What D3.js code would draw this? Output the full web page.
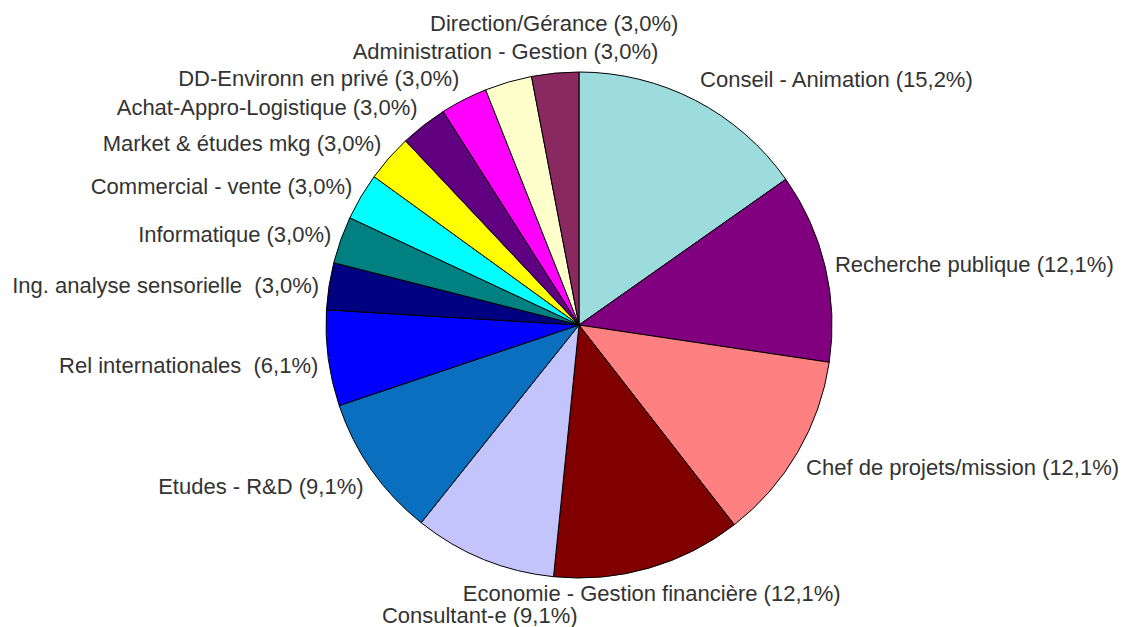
<!DOCTYPE html>
<html>
<head>
<meta charset="utf-8">
<script src="https://cdn.jsdelivr.net/npm/d3@7"></script>
<style>
  body { margin: 0; background: #fff; }
  svg { display: block; }
</style>
</head>
<body>
<script>

// categories, clockwise from 12 o'clock
var categories = ["Conseil - Animation", "Recherche publique", "Chef de projets/mission",
  "Economie - Gestion financière", "Consultant-e", "Etudes - R&D", "Rel internationales ",
  "Ing. analyse sensorielle ", "Informatique", "Commercial - vente", "Market & études mkg",
  "Achat-Appro-Logistique", "DD-Environn en privé", "Administration - Gestion", "Direction/Gérance"];

// percentages shown in labels
var percents = [15.2, 12.1, 12.1, 12.1, 9.1, 9.1, 6.1, 3.0, 3.0, 3.0, 3.0, 3.0, 3.0, 3.0, 3.0];

var colors = ["#9cdcdc", "#800080", "#ff8080", "#800000", "#c4c4fc", "#0a6fbf", "#0000ff",
  "#000080", "#008080", "#00ffff", "#ffff00", "#600080", "#ff00ff", "#ffffcc", "#8a2860"];

var width = 1124, height = 627;
var cx = 579, cy = 325, radius = 253;
var fontSize = 22;

var svg = d3.select("body").append("svg")
  .attr("width", width)
  .attr("height", height);

var g = svg.append("g").attr("transform", "translate(" + cx + "," + cy + ")");

var pie = d3.pie().sort(null).value(function(d) { return d; });
var arcs = pie(percents);
var arc = d3.arc().innerRadius(0).outerRadius(radius);

g.selectAll("path.slice")
  .data(arcs)
  .enter()
  .append("path")
  .attr("class", "slice")
  .attr("d", arc)
  .attr("fill", function(d, i) { return colors[i]; })
  .attr("stroke", "#000")
  .attr("stroke-width", 1);

// labels: placed just outside the arc, then pushed apart if they overlap
function fmt(v) { return v.toFixed(1).replace(".", ","); }

var labels = g.selectAll("text.lbl")
  .data(arcs)
  .enter()
  .append("text")
  .attr("class", "lbl")
  .style("font-family", "Arial, 'Liberation Sans', sans-serif")
  .style("font-size", fontSize + "px")
  .style("white-space", "pre")
  .style("fill", "#333")
  .attr("dominant-baseline", "central")
  .text(function(d, i) { return categories[i] + " (" + fmt(percents[i]) + "%)"; });

var placed = [];
labels.each(function(d) {
  var a = (d.startAngle + d.endAngle) / 2;
  var s = Math.sin(a), c = Math.cos(a);
  var px = (radius + 10) * s, py = -(radius + 10) * c;
  var w = this.getComputedTextLength();
  var anchor = Math.abs(s) < 0.4 ? "middle" : (s > 0 ? "start" : "end");
  var x0 = anchor == "start" ? px : (anchor == "end" ? px - w : px - w / 2);
  var y = py - c * (c > 0 ? 18 : 12) + 4;
  var dir = y < 0 ? -1 : 1;
  var gap = y < 0 ? 27 : 22;
  var hit = true;
  while (hit) {
    hit = false;
    for (var k = 0; k < placed.length; k++) {
      var b = placed[k];
      if (x0 < b.x1 && x0 + w > b.x0 && Math.abs(y - b.y) < gap) { hit = true; break; }
    }
    if (hit) y += dir;
  }
  placed.push({x0: x0, x1: x0 + w, y: y});
  d3.select(this).attr("x", px).attr("y", y).attr("text-anchor", anchor);
});

</script>
</body>
</html>
